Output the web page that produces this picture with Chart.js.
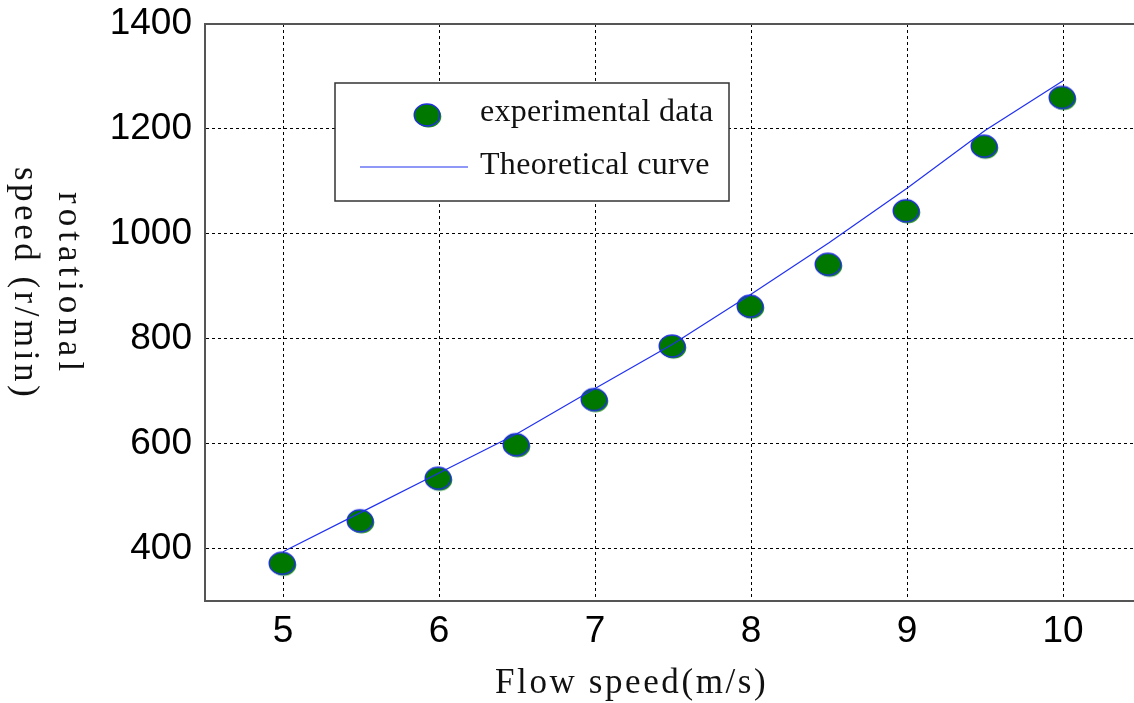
<!DOCTYPE html>
<html>
<head>
<meta charset="utf-8">
<script src="https://cdn.jsdelivr.net/npm/chart.js@4"></script>
<style>
  html, body { margin: 0; padding: 0; background: #fff; overflow: hidden; }
  #wrap { position: absolute; left: 0; top: 0; width: 1141px; height: 703px; }
</style>
</head>
<body>
<div id="wrap"><canvas id="speedChart" width="1141" height="703"></canvas></div>
<script>
// flow speed (m/s) and rotational speed (r/min)
const flowSpeed = [5, 5.5, 6, 6.5, 7, 7.5, 8, 8.5, 9, 9.5, 10];
const experimentalRpm = [371, 452, 533, 597, 683, 785, 861, 941, 1043, 1166, 1259];
const theoreticalRpm = [394, 469, 544, 619, 705, 790, 885, 983, 1087, 1197, 1292];
const xTicks = [5, 6, 7, 8, 9, 10];
const yTicks = [400, 600, 800, 1000, 1200, 1400];
const legendLabels = ['experimental data', 'Theoretical curve'];
const xTitle = 'Flow speed(m/s)';
const yTitle = ['rotational', 'speed (r/min)'];

const serif = '"Liberation Serif", "Times New Roman", serif';

// green ellipse marker with a thin blue edge
function makeMarker() {
    const c = document.createElement('canvas');
    c.width = 30; c.height = 27;
    const g = c.getContext('2d');
    g.fillStyle = '#1a8a1a';
    g.beginPath(); g.ellipse(15.5, 14.5, 12.8, 11, 0, 0, Math.PI * 2); g.fill();
    g.fillStyle = '#007800';
    g.strokeStyle = '#1f2fe0';
    g.lineWidth = 1.4;
    g.beginPath(); g.ellipse(14, 13, 12.8, 11, 0, 0, Math.PI * 2); g.fill(); g.stroke();
    return c;
}
const marker = makeMarker();

function serifText(ctx, text, x, y, size, spacing, align) {
    ctx.save();
    ctx.font = size + 'px ' + serif;
    ctx.fillStyle = '#111';
    ctx.textBaseline = 'alphabetic';
    ctx.textAlign = align || 'left';
    ctx.letterSpacing = spacing + 'px';
    ctx.fillText(text, x, y);
    ctx.restore();
}

const framePlugin = {
    id: 'frameAndTitles',
    afterDraw: function(chart) {
        const ctx = chart.ctx;
        const area = chart.chartArea;
        // top frame line
        ctx.save();
        ctx.strokeStyle = '#555';
        ctx.lineWidth = 2;
        ctx.beginPath();
        ctx.moveTo(area.left, area.top);
        ctx.lineTo(area.right, area.top);
        ctx.stroke();
        ctx.restore();

        // legend box
        ctx.save();
        ctx.fillStyle = '#fff';
        ctx.fillRect(335, 83, 394, 118);
        ctx.strokeStyle = '#333';
        ctx.lineWidth = 1.5;
        ctx.strokeRect(335, 83, 394, 118);
        ctx.drawImage(marker, 427 - 14, 115 - 13);
        ctx.strokeStyle = '#2030f0';
        ctx.lineWidth = 1.2;
        ctx.beginPath();
        ctx.moveTo(360, 167);
        ctx.lineTo(468, 167);
        ctx.stroke();
        ctx.restore();
        serifText(ctx, legendLabels[0], 480, 121, 32, 0.3);
        serifText(ctx, legendLabels[1], 480, 174, 32, 0.3);

        // x axis title
        serifText(ctx, xTitle, 495, 693, 35, 2.6, 'left');

        // y axis title, turned clockwise
        [[59, 192, yTitle[0], 5], [15, 167, yTitle[1], 3.5]].forEach(function(item) {
            ctx.save();
            ctx.translate(item[0], item[1]);
            ctx.rotate(Math.PI / 2);
            serifText(ctx, item[2], 0, 0, 35, item[3], 'left');
            ctx.restore();
        });
    }
};

const chart = new Chart(document.getElementById('speedChart').getContext('2d'), {
    type: 'scatter',
    data: {
        datasets: [{
            label: legendLabels[1],
            type: 'line',
            data: flowSpeed.map((x, i) => ({ x: x, y: theoreticalRpm[i] })),
            borderColor: '#2030f0',
            borderWidth: 1.2,
            pointRadius: 0,
            tension: 0,
            fill: false,
            order: 0
        }, {
            label: legendLabels[0],
            data: flowSpeed.map((x, i) => ({ x: x, y: experimentalRpm[i] })),
            pointStyle: marker,
            order: 1
        }]
    },
    options: {
        responsive: false,
        animation: false,
        devicePixelRatio: 1,
        layout: { autoPadding: false, padding: { top: 24, left: 0, right: 0, bottom: 0 } },
        plugins: {
            legend: { display: false },
            tooltip: { enabled: false }
        },
        scales: {
            x: {
                type: 'linear',
                min: 4.5,
                max: 10.5,
                afterBuildTicks: function(scale) {
                    scale.ticks = xTicks.map(v => ({ value: v }));
                },
                afterFit: function(scale) {
                    scale.height = 102;
                    scale.paddingLeft = 0;
                    scale.paddingRight = 0;
                },
                grid: { color: '#000', lineWidth: 1, drawTicks: false },
                border: { color: '#555', width: 2, dash: [3, 3] },
                ticks: {
                    color: '#000',
                    padding: 9,
                    maxRotation: 0,
                    callback: v => String(v),
                    font: { family: '"Liberation Sans", Arial, sans-serif', size: 37 }
                }
            },
            y: {
                min: 300,
                max: 1400,
                afterBuildTicks: function(scale) {
                    scale.ticks = yTicks.map(v => ({ value: v }));
                },
                afterFit: function(scale) {
                    scale.width = 205;
                    scale.paddingTop = 0;
                    scale.paddingBottom = 0;
                },
                grid: { color: '#000', lineWidth: 1, drawTicks: false },
                border: { color: '#555', width: 2, dash: [3, 3] },
                ticks: {
                    color: '#000',
                    padding: 13,
                    callback: v => String(v),
                    font: { family: '"Liberation Sans", Arial, sans-serif', size: 37 }
                }
            }
        }
    },
    plugins: [framePlugin]
});
</script>
</body>
</html>
